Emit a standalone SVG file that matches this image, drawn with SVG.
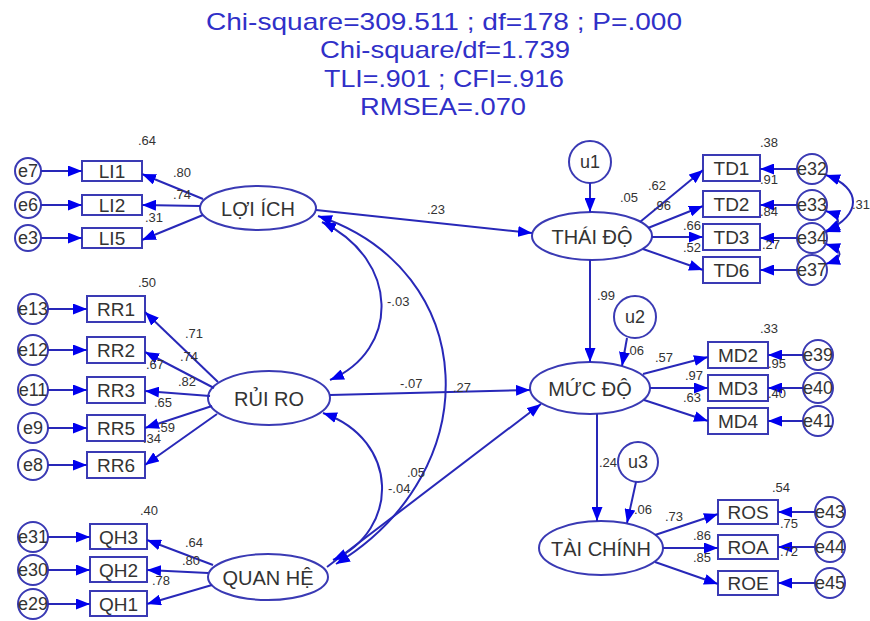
<svg xmlns="http://www.w3.org/2000/svg" width="870" height="621" viewBox="0 0 870 621">
<defs>
<marker id="ah" markerUnits="userSpaceOnUse" markerWidth="14" markerHeight="11" refX="14" refY="5.5" orient="auto"><path d="M0,0 L14,5.5 L0,11 z" fill="#0000ee"/></marker>
<marker id="ah2" markerUnits="userSpaceOnUse" markerWidth="14" markerHeight="11" refX="14" refY="5.5" orient="auto-start-reverse"><path d="M0,0 L14,5.5 L0,11 z" fill="#0000ee"/></marker>
</defs>
<style>
text{font-family:"Liberation Sans",Arial,sans-serif}
.title{font-size:24px;fill:#3030c8;text-anchor:middle}
.sh{fill:#fff;stroke:#3a3ab4;stroke-width:2}
.nl{font-size:20px;fill:#333;text-anchor:middle;dominant-baseline:central}
.bl{font-size:19px;fill:#333;text-anchor:middle;dominant-baseline:central}
.el{font-size:18px;fill:#333;text-anchor:middle;dominant-baseline:central}
.num{font-size:13px;fill:#333}
.c{fill:none;stroke:#2828b8;stroke-width:2;marker-end:url(#ah)}
.cv{fill:none;stroke:#2828b8;stroke-width:2;marker-start:url(#ah2);marker-end:url(#ah2)}
</style>
<rect width="870" height="621" fill="#fff"/>
<g id="title">
<text class="title" x="444" y="30" textLength="476" lengthAdjust="spacingAndGlyphs">Chi-square=309.511 ; df=178 ; P=.000</text>
<text class="title" x="445" y="58" textLength="250" lengthAdjust="spacingAndGlyphs">Chi-square/df=1.739</text>
<text class="title" x="444" y="87" textLength="240" lengthAdjust="spacingAndGlyphs">TLI=.901 ; CFI=.916</text>
<text class="title" x="443" y="115" textLength="166" lengthAdjust="spacingAndGlyphs">RMSEA=.070</text>
</g>

<!-- latent nodes -->
<g id="LOIICH"><ellipse class="sh" cx="258" cy="208" rx="58" ry="22"/><text class="nl" x="258" y="209">LỢI ÍCH</text></g>
<g id="RUIRO"><ellipse class="sh" cx="269" cy="398" rx="61" ry="27"/><text class="nl" x="269" y="399">RỦI RO</text></g>
<g id="QUANHE"><ellipse class="sh" cx="268" cy="577" rx="60" ry="23"/><text class="nl" x="268" y="578">QUAN HỆ</text></g>
<g id="THAIDO"><ellipse class="sh" cx="592" cy="236" rx="60" ry="24"/><text class="nl" x="592" y="237">THÁI ĐỘ</text></g>
<g id="MUCDO"><ellipse class="sh" cx="590" cy="388" rx="60" ry="26"/><text class="nl" x="590" y="389">MỨC ĐỘ</text></g>
<g id="TAICHINH"><ellipse class="sh" cx="601" cy="548" rx="62" ry="27"/><text class="nl" x="601" y="549">TÀI CHÍNH</text></g>

<!-- disturbances -->
<g id="u1"><circle class="sh" cx="590" cy="162" r="21"/><text class="el" x="590" y="162">u1</text></g>
<g id="u2"><circle class="sh" cx="635" cy="317" r="21"/><text class="el" x="635" y="317">u2</text></g>
<g id="u3"><circle class="sh" cx="638" cy="462" r="20"/><text class="el" x="638" y="462">u3</text></g>

<!-- LI indicators -->
<g id="LI1"><rect class="sh" x="82" y="161" width="60" height="20"/><text class="bl" x="112" y="171">LI1</text></g>
<g id="LI2"><rect class="sh" x="82" y="195" width="60" height="20"/><text class="bl" x="112" y="205">LI2</text></g>
<g id="LI5"><rect class="sh" x="82" y="228" width="60" height="20"/><text class="bl" x="112" y="238">LI5</text></g>
<g id="e7"><circle class="sh" cx="28" cy="171" r="13"/><text class="el" x="28" y="171">e7</text></g>
<g id="e6"><circle class="sh" cx="28" cy="205" r="13"/><text class="el" x="28" y="205">e6</text></g>
<g id="e3"><circle class="sh" cx="28" cy="238" r="13"/><text class="el" x="28" y="238">e3</text></g>

<!-- RR indicators -->
<g id="RR1"><rect class="sh" x="87" y="296" width="58" height="26"/><text class="bl" x="116" y="309">RR1</text></g>
<g id="RR2"><rect class="sh" x="87" y="337" width="58" height="26"/><text class="bl" x="116" y="350">RR2</text></g>
<g id="RR3"><rect class="sh" x="87" y="377" width="58" height="26"/><text class="bl" x="116" y="390">RR3</text></g>
<g id="RR5"><rect class="sh" x="87" y="415" width="58" height="26"/><text class="bl" x="116" y="428">RR5</text></g>
<g id="RR6"><rect class="sh" x="87" y="452" width="58" height="26"/><text class="bl" x="116" y="465">RR6</text></g>
<g id="e13"><circle class="sh" cx="33" cy="309" r="15"/><text class="el" x="33" y="309">e13</text></g>
<g id="e12"><circle class="sh" cx="33" cy="350" r="15"/><text class="el" x="33" y="350">e12</text></g>
<g id="e11"><circle class="sh" cx="33" cy="390" r="15"/><text class="el" x="33" y="390">e11</text></g>
<g id="e9"><circle class="sh" cx="33" cy="428" r="15"/><text class="el" x="33" y="428">e9</text></g>
<g id="e8"><circle class="sh" cx="33" cy="465" r="15"/><text class="el" x="33" y="465">e8</text></g>

<!-- QH indicators -->
<g id="QH3"><rect class="sh" x="90" y="524" width="57" height="25"/><text class="bl" x="118.5" y="537">QH3</text></g>
<g id="QH2"><rect class="sh" x="90" y="557" width="57" height="25"/><text class="bl" x="118.5" y="570">QH2</text></g>
<g id="QH1"><rect class="sh" x="90" y="591" width="57" height="25"/><text class="bl" x="118.5" y="604">QH1</text></g>
<g id="e31"><circle class="sh" cx="33" cy="537" r="15"/><text class="el" x="33" y="537">e31</text></g>
<g id="e30"><circle class="sh" cx="33" cy="570" r="15"/><text class="el" x="33" y="570">e30</text></g>
<g id="e29"><circle class="sh" cx="33" cy="604" r="15"/><text class="el" x="33" y="604">e29</text></g>

<!-- TD indicators -->
<g id="TD1"><rect class="sh" x="703" y="155" width="57" height="26"/><text class="bl" x="731.5" y="168">TD1</text></g>
<g id="TD2"><rect class="sh" x="703" y="191" width="57" height="26"/><text class="bl" x="731.5" y="204">TD2</text></g>
<g id="TD3"><rect class="sh" x="703" y="224" width="57" height="26"/><text class="bl" x="731.5" y="237">TD3</text></g>
<g id="TD6"><rect class="sh" x="703" y="257" width="57" height="26"/><text class="bl" x="731.5" y="270">TD6</text></g>
<g id="e32"><circle class="sh" cx="812" cy="169" r="15"/><text class="el" x="812" y="169">e32</text></g>
<g id="e33"><circle class="sh" cx="812" cy="205" r="15"/><text class="el" x="812" y="205">e33</text></g>
<g id="e34"><circle class="sh" cx="812" cy="238" r="15"/><text class="el" x="812" y="238">e34</text></g>
<g id="e37"><circle class="sh" cx="812" cy="270" r="15"/><text class="el" x="812" y="270">e37</text></g>

<!-- MD indicators -->
<g id="MD2"><rect class="sh" x="708" y="342" width="60" height="26"/><text class="bl" x="738" y="355">MD2</text></g>
<g id="MD3"><rect class="sh" x="708" y="375" width="60" height="26"/><text class="bl" x="738" y="388">MD3</text></g>
<g id="MD4"><rect class="sh" x="708" y="408" width="60" height="26"/><text class="bl" x="738" y="421">MD4</text></g>
<g id="e39"><circle class="sh" cx="818" cy="355" r="15"/><text class="el" x="818" y="355">e39</text></g>
<g id="e40"><circle class="sh" cx="818" cy="388" r="15"/><text class="el" x="818" y="388">e40</text></g>
<g id="e41"><circle class="sh" cx="818" cy="421" r="15"/><text class="el" x="818" y="421">e41</text></g>

<!-- TC indicators -->
<g id="ROS"><rect class="sh" x="718" y="500" width="60" height="24"/><text class="bl" x="748" y="512">ROS</text></g>
<g id="ROA"><rect class="sh" x="718" y="535" width="60" height="24"/><text class="bl" x="748" y="547">ROA</text></g>
<g id="ROE"><rect class="sh" x="718" y="571" width="60" height="24"/><text class="bl" x="748" y="583">ROE</text></g>
<g id="e43"><circle class="sh" cx="830" cy="512" r="15"/><text class="el" x="830" y="512">e43</text></g>
<g id="e44"><circle class="sh" cx="830" cy="547" r="15"/><text class="el" x="830" y="547">e44</text></g>
<g id="e45"><circle class="sh" cx="830" cy="583" r="15"/><text class="el" x="830" y="583">e45</text></g>

<g id="connectors">
<!-- error arrows left -->
<line class="c" x1="41" y1="171" x2="82" y2="171"/>
<line class="c" x1="41" y1="205" x2="82" y2="205"/>
<line class="c" x1="41" y1="238" x2="82" y2="238"/>
<line class="c" x1="48" y1="309" x2="87" y2="309"/>
<line class="c" x1="48" y1="350" x2="87" y2="350"/>
<line class="c" x1="48" y1="390" x2="87" y2="390"/>
<line class="c" x1="48" y1="428" x2="87" y2="428"/>
<line class="c" x1="48" y1="465" x2="87" y2="465"/>
<line class="c" x1="48" y1="537" x2="90" y2="537"/>
<line class="c" x1="48" y1="570" x2="90" y2="570"/>
<line class="c" x1="48" y1="604" x2="90" y2="604"/>
<!-- error arrows right -->
<line class="c" x1="797" y1="169" x2="760" y2="169"/>
<line class="c" x1="797" y1="205" x2="760" y2="205"/>
<line class="c" x1="797" y1="238" x2="760" y2="238"/>
<line class="c" x1="797" y1="270" x2="760" y2="270"/>
<line class="c" x1="803" y1="355" x2="768" y2="355"/>
<line class="c" x1="803" y1="388" x2="768" y2="388"/>
<line class="c" x1="803" y1="421" x2="768" y2="421"/>
<line class="c" x1="815" y1="512" x2="778" y2="512"/>
<line class="c" x1="815" y1="547" x2="778" y2="547"/>
<line class="c" x1="815" y1="583" x2="778" y2="583"/>
<!-- loadings left -->
<line class="c" x1="203" y1="199" x2="142" y2="174"/>
<line class="c" x1="200" y1="206" x2="142" y2="205"/>
<line class="c" x1="203" y1="215" x2="142" y2="240"/>
<line class="c" x1="218" y1="382" x2="145" y2="312"/>
<line class="c" x1="214" y1="388" x2="145" y2="352"/>
<line class="c" x1="210" y1="396" x2="145" y2="391"/>
<line class="c" x1="212" y1="406" x2="145" y2="428"/>
<line class="c" x1="217" y1="414" x2="145" y2="465"/>
<line class="c" x1="213" y1="565" x2="147" y2="540"/>
<line class="c" x1="208" y1="573" x2="147" y2="570"/>
<line class="c" x1="212" y1="585" x2="147" y2="604"/>
<!-- loadings right -->
<line class="c" x1="640" y1="222" x2="703" y2="170"/>
<line class="c" x1="648" y1="228" x2="703" y2="206"/>
<line class="c" x1="652" y1="237" x2="703" y2="237"/>
<line class="c" x1="643" y1="249" x2="703" y2="270"/>
<line class="c" x1="643" y1="374" x2="708" y2="357"/>
<line class="c" x1="650" y1="388" x2="708" y2="388"/>
<line class="c" x1="644" y1="400" x2="708" y2="421"/>
<line class="c" x1="655" y1="535" x2="718" y2="514"/>
<line class="c" x1="663" y1="548" x2="718" y2="548"/>
<line class="c" x1="655" y1="562" x2="718" y2="584"/>
<!-- structural paths -->
<line class="c" x1="316" y1="210" x2="532" y2="233"/>
<line class="c" x1="330" y1="395" x2="530" y2="390"/>
<line class="c" x1="327" y1="567" x2="541" y2="404"/>
<line class="c" x1="590" y1="260" x2="590" y2="362"/>
<line class="c" x1="597" y1="414" x2="597" y2="521"/>
<line class="c" x1="590" y1="183" x2="590" y2="212"/>
<line class="c" x1="627" y1="338" x2="622" y2="366"/>
<line class="c" x1="636" y1="482" x2="627" y2="523"/>
<!-- covariances -->
<path class="cv" d="M322,222 C400,260 400,350 330,380"/>
<path class="cv" d="M318,216 C480,270 490,470 336,564"/>
<path class="cv" d="M323,413 C400,440 400,530 333,560"/>
<path class="cv" d="M826,175 C862,188 862,215 826,231"/>
<path class="cv" d="M826,211 C842,216 842,226 826,232"/>
<path class="cv" d="M826,244 C844,250 844,258 826,264"/>
</g>

<g id="labels">
<text class="num" x="138" y="145">.64</text>
<text class="num" x="173" y="177">.80</text>
<text class="num" x="173" y="199">.74</text>
<text class="num" x="145" y="222">.31</text>
<text class="num" x="138" y="287">.50</text>
<text class="num" x="185" y="338">.71</text>
<text class="num" x="180" y="361">.74</text>
<text class="num" x="146" y="369">.67</text>
<text class="num" x="178" y="386">.82</text>
<text class="num" x="154" y="407">.65</text>
<text class="num" x="157" y="432">.59</text>
<text class="num" x="143" y="443">.34</text>
<text class="num" x="140" y="515">.40</text>
<text class="num" x="185" y="547">.64</text>
<text class="num" x="182" y="565">.80</text>
<text class="num" x="152" y="585">.78</text>
<text class="num" x="427" y="214">.23</text>
<text class="num" x="387" y="306">-.03</text>
<text class="num" x="400" y="388">-.07</text>
<text class="num" x="453" y="392">.27</text>
<text class="num" x="407" y="477">.05</text>
<text class="num" x="388" y="493">-.04</text>
<text class="num" x="760" y="147">.38</text>
<text class="num" x="620" y="202">.05</text>
<text class="num" x="648" y="190">.62</text>
<text class="num" x="653" y="210">.96</text>
<text class="num" x="683" y="230">.66</text>
<text class="num" x="683" y="252">.52</text>
<text class="num" x="760" y="184">.91</text>
<text class="num" x="760" y="216">.84</text>
<text class="num" x="762" y="249">.27</text>
<text class="num" x="852" y="209">.31</text>
<text class="num" x="597" y="300">.99</text>
<text class="num" x="626" y="355">.06</text>
<text class="num" x="760" y="333">.33</text>
<text class="num" x="655" y="362">.57</text>
<text class="num" x="685" y="380">.97</text>
<text class="num" x="683" y="402">.63</text>
<text class="num" x="768" y="368">.95</text>
<text class="num" x="768" y="398">.40</text>
<text class="num" x="599" y="467">.24</text>
<text class="num" x="634" y="514">.06</text>
<text class="num" x="772" y="492">.54</text>
<text class="num" x="665" y="521">.73</text>
<text class="num" x="693" y="540">.86</text>
<text class="num" x="693" y="562">.85</text>
<text class="num" x="780" y="528">.75</text>
<text class="num" x="780" y="556">.72</text>
</g>
</svg>
